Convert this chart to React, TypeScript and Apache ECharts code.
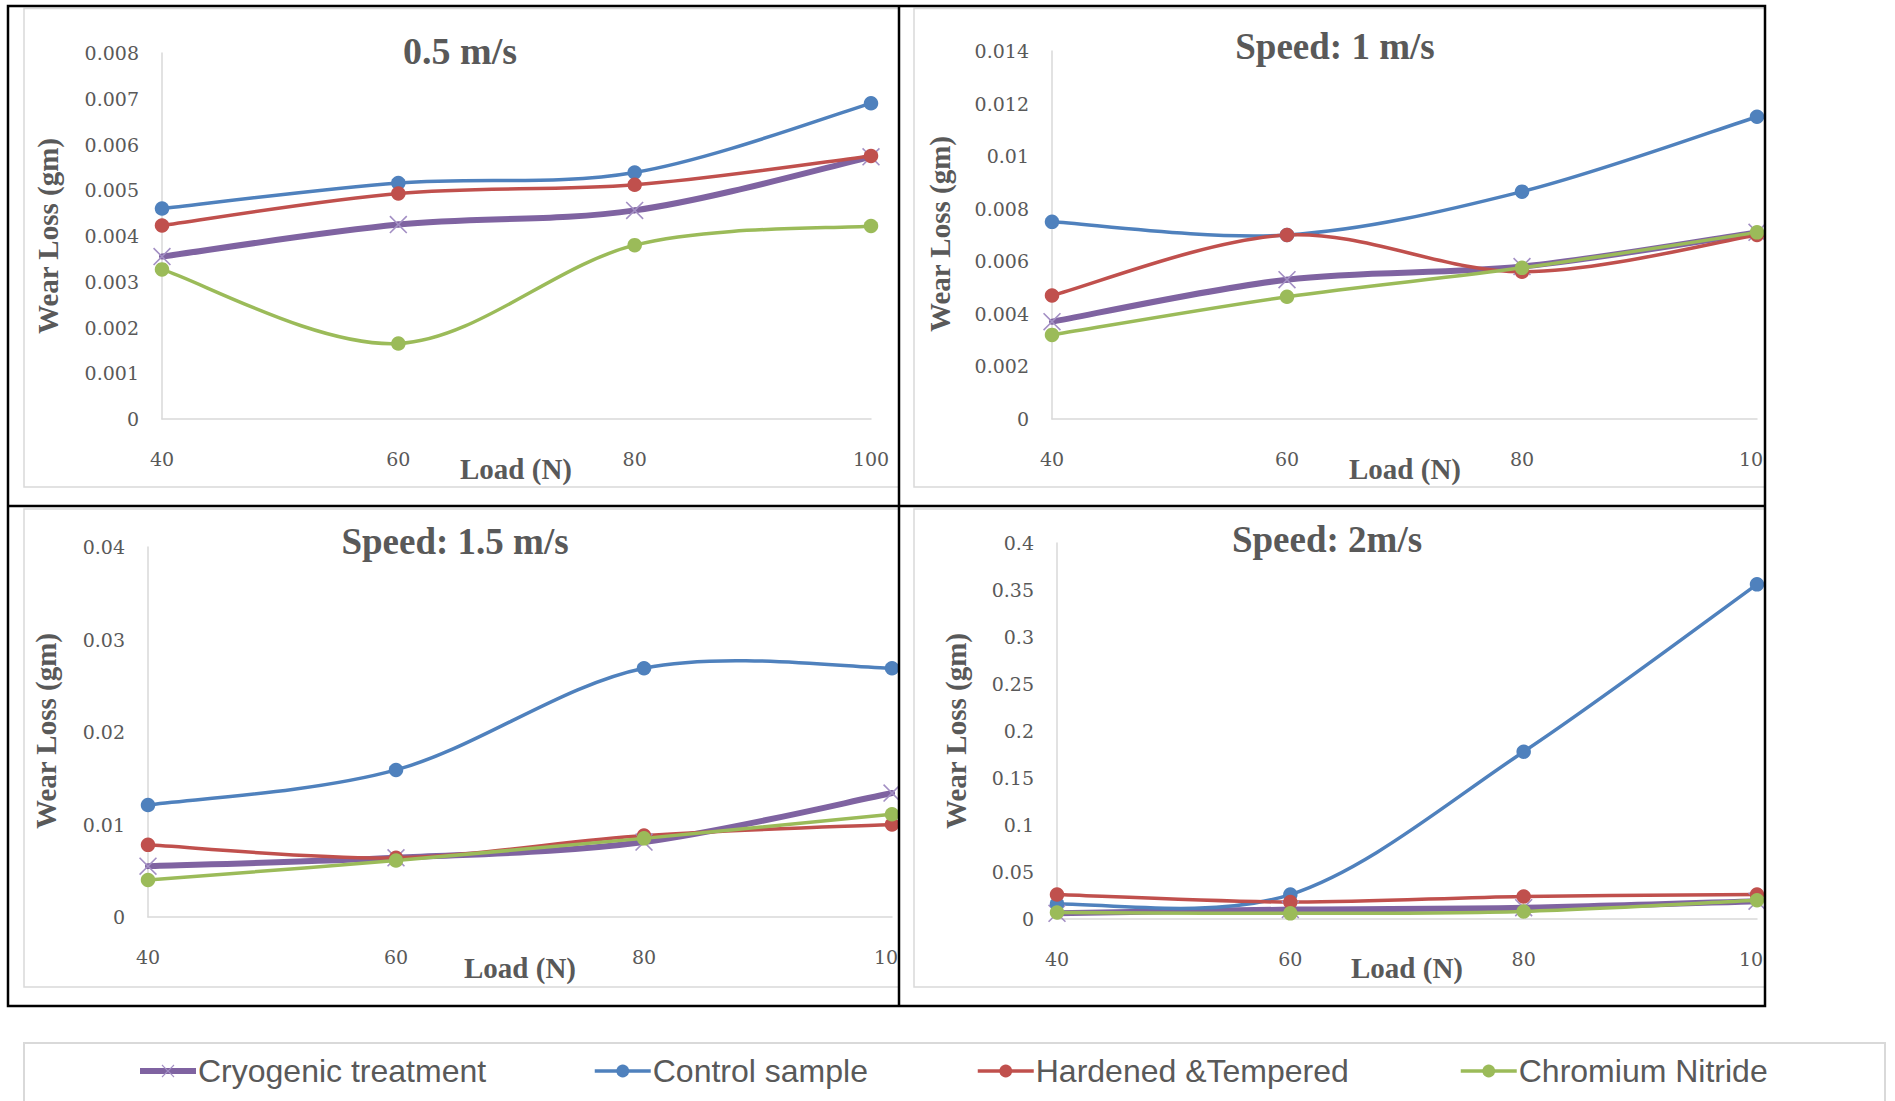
import React, { useEffect, useRef } from "react";
import * as echarts from "echarts";

// ---------- data ----------
const loads = ["40", "60", "80", "100"];
const seriesNames = ["Cryogenic treatment", "Control sample", "Hardened &Tempered", "Chromium Nitride"];

const cryo05 = [0.00355, 0.00425, 0.00456, 0.00573];
const control05 = [0.0046, 0.00516, 0.00539, 0.0069];
const hardened05 = [0.00423, 0.00493, 0.00512, 0.00575];
const chromium05 = [0.00327, 0.00165, 0.0038, 0.00422];

const cryo1 = [0.0037, 0.0053, 0.0058, 0.0071];
const control1 = [0.0075, 0.007, 0.00865, 0.0115];
const hardened1 = [0.0047, 0.007, 0.0056, 0.007];
const chromium1 = [0.0032, 0.00465, 0.00575, 0.0071];

const cryo15 = [0.0055, 0.0064, 0.0081, 0.0134];
const control15 = [0.0121, 0.0159, 0.0269, 0.0269];
const hardened15 = [0.0078, 0.0064, 0.0088, 0.01];
const chromium15 = [0.004, 0.0061, 0.0085, 0.0111];

const cryo2 = [0.006, 0.01, 0.012, 0.019];
const control2 = [0.016, 0.026, 0.178, 0.356];
const hardened2 = [0.026, 0.018, 0.024, 0.026];
const chromium2 = [0.007, 0.006, 0.008, 0.02];

const panelTitles = ["0.5 m/s", "Speed: 1 m/s", "Speed: 1.5 m/s", "Speed: 2m/s"];
const yMax = [0.008, 0.014, 0.04, 0.4];
const yStep = [0.001, 0.002, 0.01, 0.05];
const xAxisTitle = "Load (N)";
const yAxisTitle = "Wear Loss (gm)";

const panelData = [
  [cryo05, control05, hardened05, chromium05],
  [cryo1, control1, hardened1, chromium1],
  [cryo15, control15, hardened15, chromium15],
  [cryo2, control2, hardened2, chromium2],
];

// ---------- layout / style ----------
const grids = [
  { left: 162, top: 53, width: 709, height: 366 },
  { left: 1052, top: 51, width: 705, height: 368 },
  { left: 148, top: 547, width: 744, height: 370 },
  { left: 1057, top: 543, width: 700, height: 376 },
];
const titlePos = [[460, 51], [1335, 46], [455, 541], [1327, 539]];
const titleSize = [38, 37, 37, 37];
const loadPos = [[516, 469], [1405, 469], [520, 968], [1407, 968]];
const yTitlePos = [[48, 236], [940, 234], [46, 731], [956, 731]];

const lineColors = ["#7f63a1", "#4f81bd", "#c0504d", "#9bbb59"];
const symbolColors = ["#a38fc4", "#4f81bd", "#c0504d", "#9bbb59"];
const lineWidths = [6, 3.5, 3.5, 3.5];
const xSymbol = "path://M0,1L1,0L8,7L15,0L16,1L9,8L16,15L15,16L8,9L1,16L0,15L7,8Z";
const symbols = [xSymbol, "circle", "circle", "circle"];
const symbolSizes = [18, 14.5, 14.5, 14.5];
const legendLeft = [137, 593, 976, 1459];

const TXT = "#595959";
const GRAY = "#d9d9d9";

function fmt(v: number) {
  return String(parseFloat(Number(v).toPrecision(8)));
}

// Excel-like smoothed segment drawn from the data through the axis scales
function makeCurveRenderer(vals: number[], color: string, width: number) {
  return function (params: any, api: any) {
    const i = params.dataIndex;
    const n = vals.length;
    if (i >= n - 1) return null;
    const c = (j: number) => {
      const k = Math.max(0, Math.min(n - 1, j));
      return api.coord([k, vals[k]]);
    };
    const p0 = c(i - 1);
    const p1 = c(i);
    const p2 = c(i + 1);
    const p3 = c(i + 2);
    return {
      type: "bezierCurve",
      shape: {
        x1: p1[0],
        y1: p1[1],
        cpx1: p1[0] + (p2[0] - p0[0]) / 6,
        cpy1: p1[1] + (p2[1] - p0[1]) / 6,
        cpx2: p2[0] - (p3[0] - p1[0]) / 6,
        cpy2: p2[1] - (p3[1] - p1[1]) / 6,
        x2: p2[0],
        y2: p2[1],
      },
      style: { stroke: color, lineWidth: width, fill: null, lineCap: "round" },
    };
  };
}

export default function App() {
  const ref = useRef<HTMLDivElement>(null);
  useEffect(() => {
    if (!ref.current) return;
    const chart = echarts.init(ref.current, undefined, { renderer: "svg" });

    const xAxes: any[] = [];
    const yAxes: any[] = [];
    const series: any[] = [];
    grids.forEach((g, p) => {
      xAxes.push({
        type: "category",
        gridIndex: p,
        data: loads,
        boundaryGap: false,
        axisTick: { show: false },
        axisLine: { show: true, lineStyle: { color: GRAY, width: 1.5 } },
        axisLabel: {
          margin: 30,
          color: TXT,
          fontFamily: "DejaVu Serif",
          fontSize: 19,
          showMaxLabel: true,
          showMinLabel: true,
        },
        splitLine: { show: false },
      });
      yAxes.push({
        type: "value",
        gridIndex: p,
        min: 0,
        max: yMax[p],
        interval: yStep[p],
        axisTick: { show: false },
        axisLine: { show: true, lineStyle: { color: GRAY, width: 1.5 } },
        axisLabel: {
          margin: 23,
          color: TXT,
          fontFamily: "DejaVu Serif",
          fontSize: 19,
          formatter: fmt,
        },
        splitLine: { show: false },
      });
      panelData[p].forEach((vals, k) => {
        series.push({
          type: "custom",
          name: seriesNames[k] + " curve",
          xAxisIndex: p,
          yAxisIndex: p,
          data: vals.map((v, i) => [i, v]),
          encode: { x: 0, y: 1 },
          renderItem: makeCurveRenderer(vals, lineColors[k], lineWidths[k]),
          z: 2,
          silent: true,
        });
      });
      panelData[p].forEach((vals, k) => {
        series.push({
          type: "line",
          name: seriesNames[k],
          xAxisIndex: p,
          yAxisIndex: p,
          data: vals,
          clip: false,
          symbol: symbols[k],
          symbolSize: symbolSizes[k],
          showSymbol: true,
          lineStyle: { color: lineColors[k], width: lineWidths[k], opacity: 0 },
          itemStyle: { color: symbolColors[k] },
          color: lineColors[k],
          z: 3,
          emphasis: { disabled: true },
        });
      });
    });

    const graphics: any[] = [];
    const areas = [
      { x0: 24, y0: 8.5, y1: 487, x1: 899 },
      { x0: 914, y0: 8.5, y1: 487, x1: 1765 },
      { x0: 24, y0: 509, y1: 987, x1: 899 },
      { x0: 914, y0: 509, y1: 987, x1: 1765 },
    ];
    areas.forEach((a) => {
      graphics.push({
        type: "polyline",
        z: 1,
        shape: { points: [[a.x1, a.y0], [a.x0, a.y0], [a.x0, a.y1], [a.x1, a.y1]] },
        style: { stroke: GRAY, lineWidth: 1.5, fill: null },
      });
    });
    panelTitles.forEach((t, p) => {
      graphics.push({
        type: "text",
        x: titlePos[p][0],
        y: titlePos[p][1],
        z: 5,
        style: {
          text: t,
          fontFamily: "Liberation Serif",
          fontWeight: "bold",
          fontSize: titleSize[p],
          fill: TXT,
          align: "center",
          verticalAlign: "middle",
        },
      });
      graphics.push({
        type: "text",
        x: loadPos[p][0],
        y: loadPos[p][1],
        z: 5,
        style: {
          text: xAxisTitle,
          fontFamily: "Liberation Serif",
          fontWeight: "bold",
          fontSize: 29,
          fill: TXT,
          align: "center",
          verticalAlign: "middle",
        },
      });
      graphics.push({
        type: "text",
        x: yTitlePos[p][0],
        y: yTitlePos[p][1],
        rotation: Math.PI / 2,
        z: 5,
        style: {
          text: yAxisTitle,
          fontFamily: "Liberation Serif",
          fontWeight: "bold",
          fontSize: 29,
          fill: TXT,
          align: "center",
          verticalAlign: "middle",
        },
      });
    });
    graphics.push({
      type: "rect",
      z: 100,
      shape: { x: 1766, y: 0, width: 129, height: 1012 },
      style: { fill: "#ffffff" },
    });
    graphics.push({
      type: "rect",
      z: 100,
      shape: { x: 900, y: 508, width: 13, height: 497 },
      style: { fill: "#ffffff" },
    });
    graphics.push({
      type: "rect",
      z: 110,
      shape: { x: 8, y: 6, width: 1757, height: 1000 },
      style: { stroke: "#000000", lineWidth: 2.5, fill: null },
    });
    graphics.push({
      type: "line",
      z: 110,
      shape: { x1: 899, y1: 6, x2: 899, y2: 1006 },
      style: { stroke: "#000000", lineWidth: 2.5 },
    });
    graphics.push({
      type: "line",
      z: 110,
      shape: { x1: 8, y1: 506, x2: 1765, y2: 506 },
      style: { stroke: "#000000", lineWidth: 2.5 },
    });
    graphics.push({
      type: "rect",
      z: 1,
      shape: { x: 24, y: 1043, width: 1861, height: 80 },
      style: { stroke: GRAY, lineWidth: 2, fill: null },
    });

    const legends = seriesNames.map((n, k) => ({
      show: true,
      data: [n],
      left: legendLeft[k],
      top: 1055,
      padding: 0,
      itemGap: 0,
      itemWidth: 56,
      itemHeight: 16,
      selectedMode: false,
      lineStyle: { color: lineColors[k], width: lineWidths[k], opacity: 1 },
      itemStyle: { color: symbolColors[k] },
      textStyle: {
        color: TXT,
        fontFamily: "Liberation Sans",
        fontSize: 32,
        padding: [0, 0, 0, -3],
      },
    }));

    chart.setOption({
      animation: false,
      backgroundColor: "#ffffff",
      grid: grids.map((g) => ({ ...g, containLabel: false })),
      xAxis: xAxes,
      yAxis: yAxes,
      series,
      legend: legends,
      graphic: graphics,
    });
    return () => {
      chart.dispose();
    };
  }, []);
  return (
    <div
      ref={ref}
      style={{ position: "fixed", left: 0, top: 0, width: 1895, height: 1101, background: "#fff" }}
    />
  );
}
